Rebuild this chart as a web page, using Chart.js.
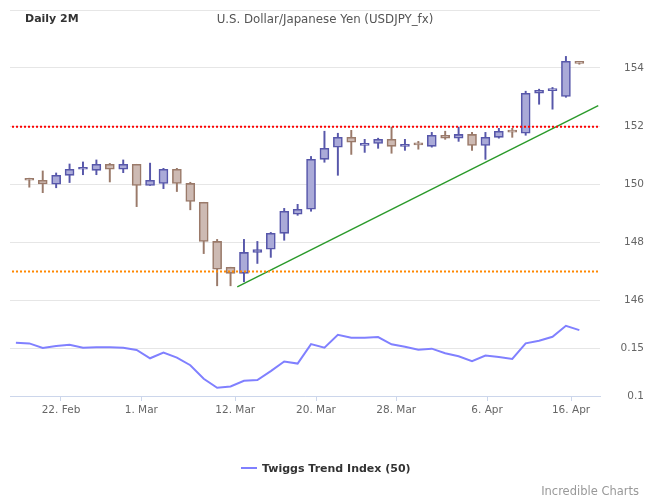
<!DOCTYPE html>
<html><head><meta charset="utf-8">
<script src="https://cdn.jsdelivr.net/npm/chart.js@4"></script>
<style>
html,body{margin:0;padding:0;background:#fff;}
#wrap{position:relative;width:650px;height:500px;font-family:"DejaVu Sans",sans-serif;overflow:hidden;}
#c{position:absolute;left:0;top:0;}
.t{position:absolute;white-space:nowrap;line-height:16px;}
</style></head><body>
<div id="wrap">
<canvas id="c" width="650" height="500"></canvas>
<div class="t" style="left:25px;top:11px;font-weight:bold;font-size:11px;color:#333">Daily 2M</div>
<div class="t" style="left:0;width:650px;text-align:center;top:11px;font-size:11.8px;color:#555">U.S. Dollar/Japanese Yen (USDJPY_fx)</div>
<div class="t" style="left:241px;top:461px;font-weight:bold;font-size:11px;color:#333"><span style="display:inline-block;width:16px;height:2px;background:#8080ff;vertical-align:middle;margin-right:5px;position:relative;top:-1px"></span>Twiggs Trend Index (50)</div>
<div class="t" style="right:11px;top:483px;font-size:11.5px;color:#999">Incredible Charts</div>
</div>
<script>
// ---- data ----
const dates = ['19 Feb','20 Feb','21 Feb','22 Feb','23 Feb','26 Feb','27 Feb','28 Feb','29 Feb','1 Mar',
  '4 Mar','5 Mar','6 Mar','7 Mar','8 Mar','11 Mar','12 Mar','13 Mar','14 Mar','15 Mar',
  '18 Mar','19 Mar','20 Mar','21 Mar','22 Mar','25 Mar','26 Mar','27 Mar','28 Mar','29 Mar',
  '1 Apr','2 Apr','3 Apr','4 Apr','5 Apr','8 Apr','9 Apr','10 Apr','11 Apr','12 Apr','15 Apr','16 Apr'];
const opens = [150.16,150.13,149.99,150.30,150.51,150.47,150.68,150.51,150.68,149.95,
  150.02,150.51,150.02,149.37,148.02,147.13,146.92,147.64,147.75,148.30,
  148.96,149.13,150.85,151.27,151.61,151.33,151.40,151.54,151.30,151.37,
  151.30,151.68,151.58,151.71,151.33,151.61,151.82,151.75,153.13,153.22,153.02,154.23];
const highs = [150.20,150.45,150.38,150.69,150.76,150.83,150.71,150.83,150.68,150.72,
  150.54,150.54,150.06,149.37,148.09,147.13,148.09,148.02,148.33,149.16,
  149.30,150.95,151.82,151.75,151.85,151.54,151.58,151.96,151.54,151.47,
  151.78,151.82,151.96,151.78,151.78,151.92,151.92,153.20,153.27,153.33,154.40,154.23];
const lows = [149.89,149.70,149.87,150.05,150.32,150.32,150.07,150.39,149.22,149.95,
  149.84,149.74,149.11,147.60,146.49,146.49,146.63,147.26,147.47,148.06,
  148.92,149.06,150.75,150.30,151.02,151.09,151.23,151.06,151.16,151.20,
  151.27,151.54,151.47,151.16,150.85,151.58,151.61,151.68,152.75,152.58,152.99,154.13];
const closes = [150.13,150.00,150.30,150.51,150.54,150.68,150.51,150.68,149.95,150.13,
  150.51,150.02,149.40,148.02,147.06,146.92,147.64,147.74,148.30,149.06,
  149.13,150.85,151.23,151.61,151.44,151.40,151.54,151.30,151.37,151.35,
  151.68,151.58,151.71,151.33,151.61,151.82,151.79,153.13,153.23,153.25,154.23,154.16];
// Twiggs Trend Index (50): starts one session before the first visible candle
const trendIndex = [0.1555,0.1548,0.1500,0.1521,0.1534,0.1503,0.1507,0.1507,0.1503,0.1479,
  0.1393,0.1452,0.1400,0.1321,0.1179,0.1086,0.1100,0.1159,0.1166,0.1259,
  0.1359,0.1338,0.1541,0.1503,0.1638,0.1607,0.1607,0.1614,0.1538,0.1514,
  0.1483,0.1493,0.1445,0.1414,0.1362,0.1421,0.1407,0.1386,0.1548,0.1576,
  0.1617,0.1731,0.1686];
const resistanceLevel = 151.97;
const supportLevel = 146.98;
const trendLineX = [15.5, 42.41];
const trendLineY = [146.45, 152.70];
const levelLineX = [-1.29, 42.39];
const xTickPositions = [2.36, 8.35, 15.35, 21.37, 27.35, 34.12, 40.38];
const xTickLabels = ['22. Feb','1. Mar','12. Mar','20. Mar','28. Mar','6. Apr','16. Apr'];
const priceTicks = [146,148,150,152,154,156];
const indTicks = [0.1,0.15,0.2];

// ---- styles ----
const UP_FILL = '#aaaad8', UP_LINE = '#5757aa';
const DN_FILL = '#cdbab3', DN_LINE = '#9a7a6a';
const FONT = {family:'"DejaVu Sans", sans-serif', size:10.5};

const bodies = opens.map((o,i)=>({x:i, y:[o, closes[i]]}));
const wicks = highs.map((h,i)=>({x:i, y:[lows[i], h]}));
const up = opens.map((o,i)=>closes[i] >= o);

new Chart(document.getElementById('c'), {
  type: 'bar',
  data: {
    datasets: [
      {type:'line', label:'Resistance', data: levelLineX.map(x=>({x, y:resistanceLevel})), yAxisID:'yPrice',
        borderColor:'#ff0000', borderWidth:2, borderDash:[2,2], pointRadius:0, fill:false, order:0},
      {type:'line', label:'Support', data: levelLineX.map(x=>({x, y:supportLevel})), yAxisID:'yPrice',
        borderColor:'#ff8800', borderWidth:2, borderDash:[2,2], pointRadius:0, fill:false, order:0},
      {type:'line', label:'Trend', data: trendLineX.map((x,i)=>({x, y:trendLineY[i]})), yAxisID:'yPrice',
        borderColor:'#2a9a2a', borderWidth:1.4, pointRadius:0, fill:false, order:0},
      {type:'line', label:'Twiggs Trend Index (50)', data: trendIndex.map((v,i)=>({x:i-1, y:v})), yAxisID:'yInd',
        borderColor:'#8080ff', borderWidth:2, pointRadius:0, fill:false, tension:0, order:0},
      {label:'Body', data: bodies, yAxisID:'yPrice', barThickness:9, minBarLength:2, grouped:false,
        backgroundColor: up.map(u=>u?UP_FILL:DN_FILL), borderColor: up.map(u=>u?UP_LINE:DN_LINE),
        borderWidth:1.6, borderSkipped:false, order:1},
      {label:'Wick', data: wicks, yAxisID:'yPrice', barThickness:1.3, grouped:false,
        backgroundColor: up.map(u=>u?UP_LINE:DN_LINE), borderWidth:0, order:2}
    ]
  },
  options: {
    responsive:false, animation:false,
    layout:{padding:{left:10, top:10, right:6, bottom:74}},
    plugins:{legend:{display:false}, tooltip:{enabled:false}, title:{display:false}},
    scales:{
      x:{type:'linear', min:-1.44, max:42.54, offset:false, position:'bottom',
        afterBuildTicks: s => { s.ticks = xTickPositions.map(v=>({value:v})); },
        afterFit: s => { s.height = 30; },
        ticks:{autoSkip:false, maxRotation:0, padding:3, color:'#666', font:FONT,
          callback:(v,i)=>xTickLabels[i]},
        grid:{offset:false, drawOnChartArea:false, drawTicks:true, tickLength:5, color:'#ccd6eb'},
        border:{display:true, color:'#ccd6eb'}},
      yPrice:{type:'linear', position:'right', stack:'pane', stackWeight:290, min:146, max:156,
        afterBuildTicks: s => { s.ticks = priceTicks.map(v=>({value:v})); },
        afterFit: s => { s.width = 44; },
        ticks:{crossAlign:'far', padding:0, color:'#666', font:FONT,
          callback:v => v===156 ? '' : String(v)},
        grid:{color:'#e6e6e6', drawTicks:false}, border:{display:false}},
      yInd:{type:'linear', position:'right', stack:'pane', stackWeight:96, min:0.1, max:0.2,
        afterBuildTicks: s => { s.ticks = indTicks.map(v=>({value:v})); },
        afterFit: s => { s.width = 44; },
        ticks:{crossAlign:'far', padding:0, color:'#666', font:FONT,
          callback:v => v>=0.2 ? '' : String(v)},
        grid:{color:'#e6e6e6', drawTicks:false}, border:{display:false}}
    }
  }
});
</script>
</body></html>
